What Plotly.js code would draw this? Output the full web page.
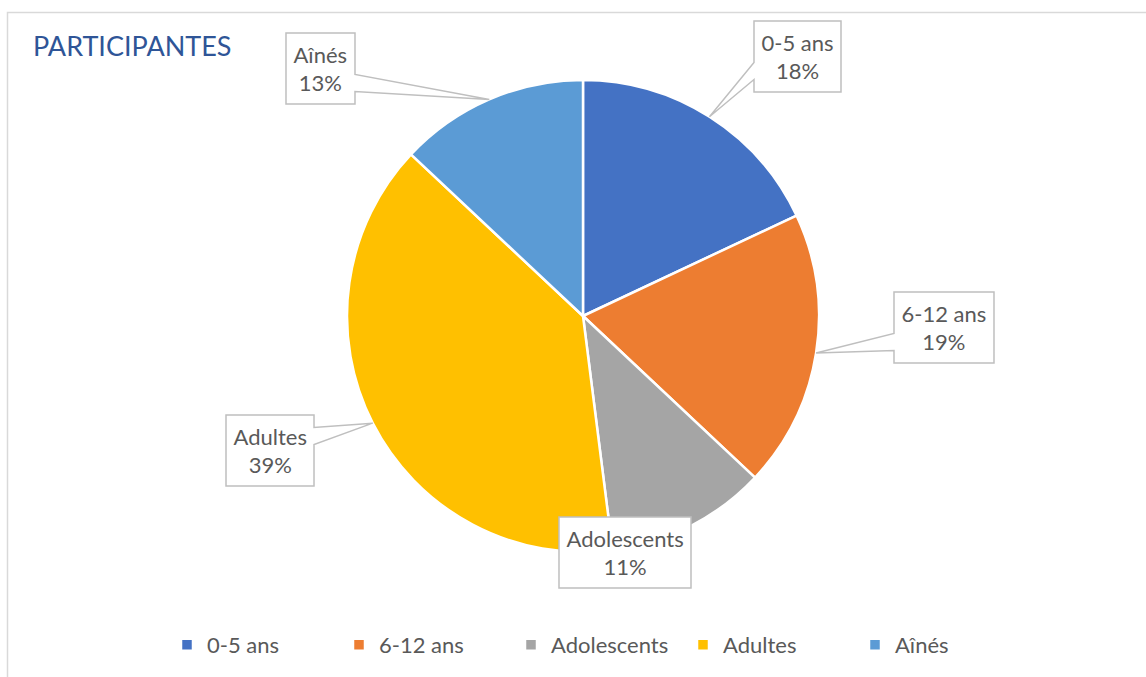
<!DOCTYPE html>
<html>
<head>
<meta charset="utf-8">
<script src="https://cdn.plot.ly/plotly-3.0.1.min.js"></script>
<style>html,body{margin:0;padding:0;background:#fff;}#chart{width:1146px;height:677px;}</style>
</head>
<body>
<div id="chart"></div>
<script>
// ---- data ----
const categories = ["0-5 ans", "6-12 ans", "Adolescents", "Adultes", "Aînés"];
const values = [18, 19, 11, 39, 13];
const colors = ["#4472C4", "#ED7D31", "#A5A5A5", "#FFC000", "#5B9BD5"];
const chartTitle = "PARTICIPANTES";

// ---- layout helpers (pixels) ----
const W = 1146, H = 677;
const CX = 583, CY = 316, R = 236;
// label box offsets (box center relative to slice edge point), pixels
const labelOffsets = [[88, -60], [128, -25], [-65, 26], [-103, 27], [-169, -31]];
const labelLeader = [true, true, false, true, true];

const total = values.reduce((a, b) => a + b, 0);
let cum = 0;
const annotations = values.map((v, i) => {
  const mid = (cum + v / 2) / total * 2 * Math.PI; cum += v;
  const px = CX + R * Math.sin(mid), py = CY - R * Math.cos(mid);
  const pct = Math.round(v / total * 100) + "%";
  return {
    x: px / W, y: 1 - py / H, xref: "paper", yref: "paper",
    text: categories[i] + "<br>" + pct,
    showarrow: true, arrowhead: 0, arrowwidth: 0.5, arrowcolor: "rgba(0,0,0,0)",
    ax: labelOffsets[i][0], ay: labelOffsets[i][1],
    bgcolor: "rgba(0,0,0,0)", borderwidth: 0, borderpad: 7.5,
    font: {family: "Lato, 'Open Sans', sans-serif", size: 22, color: "#595959"},
    align: "center"
  };
});

const trace = {
  type: "pie",
  labels: categories,
  values: values,
  sort: false,
  direction: "clockwise",
  rotation: 0,
  textinfo: "none",
  hoverinfo: "label+percent",
  marker: {colors: colors, line: {color: "#FFFFFF", width: 2.5}},
  domain: {x: [(CX - R) / W, (CX + R) / W], y: [1 - (CY + R) / H, 1 - (CY - R) / H]}
};

const borderShape = {
  type: "rect", xref: "paper", yref: "paper",
  x0: 7.5 / W, x1: 1.05, y0: -0.05, y1: 1 - 12.5 / H,
  line: {color: "#D9D9D9", width: 1.5}, fillcolor: "rgba(0,0,0,0)", layer: "below"
};

const layout = {
  width: W, height: H,
  margin: {l: 0, r: 0, t: 0, b: 0},
  paper_bgcolor: "#FFFFFF",
  title: {
    text: chartTitle, x: 33 / W, xanchor: "left", xref: "paper",
    y: 1 - 47 / H, yanchor: "middle", yref: "paper",
    font: {family: "Lato, 'Open Sans', sans-serif", size: 27, color: "#2F5597"}
  },
  showlegend: true,
  legend: {
    orientation: "h", x: 0.5 + 24 / W, xanchor: "center", y: 1 - 645 / H, yanchor: "middle",
    font: {family: "Lato, 'Open Sans', sans-serif", size: 22, color: "#595959"},
    itemwidth: 30, traceorder: "normal",
    entrywidth: 127, entrywidthmode: "pixels"
  },
  annotations: annotations,
  shapes: [borderShape]
};

Plotly.newPlot("chart", [trace], layout, {displayModeBar: false, staticPlot: true}).then(gd => {
  const root = gd.getBoundingClientRect();
  const shapes = [borderShape];
  annotations.forEach((a, i) => {
    const bg = gd.querySelector('g.annotation[data-index="' + i + '"] rect.bg');
    if (!bg) return;
    const r = bg.getBoundingClientRect();
    const L = r.left - root.left, T = r.top - root.top, Rt = r.right - root.left, B = r.bottom - root.top;
    const tx = a.x * W, ty = (1 - a.y) * H, cy = (T + B) / 2;
    let pts;
    if (!labelLeader[i]) {
      pts = [[L, T], [Rt, T], [Rt, B], [L, B]];
    } else {
      const y1 = ty > cy ? cy + 6 : cy - 23, y2 = ty > cy ? cy + 23 : cy - 6;
      if (tx < L) pts = [[L, T], [Rt, T], [Rt, B], [L, B], [L, y2], [tx, ty], [L, y1]];
      else pts = [[L, T], [Rt, T], [Rt, y1], [tx, ty], [Rt, y2], [Rt, B], [L, B]];
    }
    const path = "M" + pts.map(p => (p[0] / W).toFixed(5) + "," + (1 - p[1] / H).toFixed(5)).join(" L") + " Z";
    shapes.push({type: "path", xref: "paper", yref: "paper", path: path,
      line: {color: "#BFBFBF", width: 1.5}, fillcolor: "#FFFFFF", layer: "above"});
  });
  return Plotly.relayout(gd, {shapes: shapes});
});
</script>
</body>
</html>
